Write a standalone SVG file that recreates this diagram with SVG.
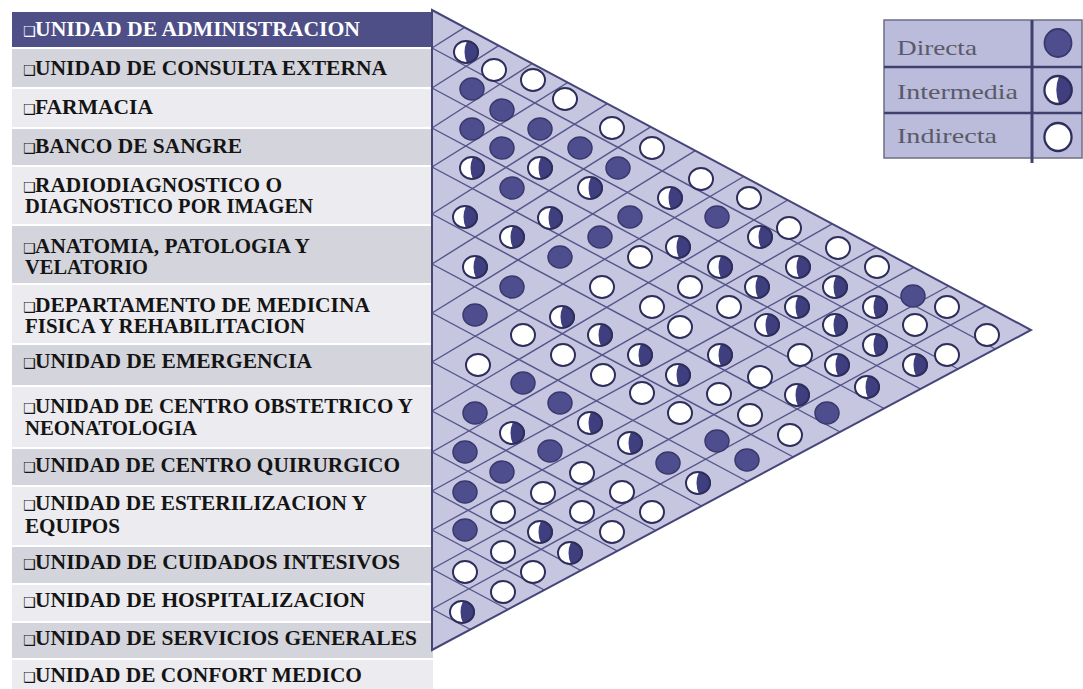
<svg xmlns="http://www.w3.org/2000/svg" width="1083" height="689" viewBox="0 0 1083 689">
<style>
.rd{fill:#4f4f88}
.rg{fill:#d4d4dc}
.rl{fill:#ececf0}
.t{font-family:"Liberation Serif","Times New Roman",serif;font-weight:bold;font-size:20px;fill:#141414}
.b{font-family:"DejaVu Sans",sans-serif;font-size:14px;fill:#141414}
.tw{fill:#ffffff}
.tri{fill:#c6c6e0}
.edge{fill:none;stroke:#45457a;stroke-width:2}
.g line{stroke:#55558b;stroke-width:1.4}
.f{fill:#4e4e8e;stroke:#38386c;stroke-width:1.5}
.w{fill:#ffffff;stroke:#2e2e5c;stroke-width:2}
.h{fill:#3f3f7f}
.o{fill:none;stroke:#2e2e5c;stroke-width:2}
.lg{fill:#bbbbdc;stroke:#6e6e84;stroke-width:1.5}
.ld{stroke:#40406f;stroke-width:2.5}
.lt{font-family:"Liberation Serif","Times New Roman",serif;font-size:21px;fill:#5a5a66}
</style>
<defs>
<g id="cF"><ellipse rx="12" ry="11" class="f"/></g>
<g id="cW"><ellipse rx="12" ry="11" class="w"/></g>
<g id="cI"><ellipse rx="12" ry="11" fill="#ffffff"/><path d="M1,-11 A12,11 0 0 1 1,11 Q-4,0 1,-11Z" class="h"/><ellipse rx="12" ry="11" class="o"/></g>
</defs>
<rect x="0" y="0" width="1083" height="689" fill="#ffffff"/>

<g id="labels">
<g id="n01"><rect class="rd" x="12" y="12" width="421" height="35"/><text class="b tw" x="23" y="36">❑</text><text class="t tw" x="35" y="36" textLength="325" lengthAdjust="spacingAndGlyphs">UNIDAD DE ADMINISTRACION</text></g>
<g id="n02"><rect class="rg" x="12" y="49" width="421" height="38"/><text class="b" x="23" y="75">❑</text><text class="t" x="35" y="75" textLength="352" lengthAdjust="spacingAndGlyphs">UNIDAD DE CONSULTA EXTERNA</text></g>
<g id="n03"><rect class="rl" x="12" y="89" width="421" height="38"/><text class="b" x="23" y="114">❑</text><text class="t" x="35" y="114" textLength="118" lengthAdjust="spacingAndGlyphs">FARMACIA</text></g>
<g id="n04"><rect class="rg" x="12" y="129" width="421" height="36"/><text class="b" x="23" y="153">❑</text><text class="t" x="35" y="153" textLength="207" lengthAdjust="spacingAndGlyphs">BANCO DE SANGRE</text></g>
<g id="n05"><rect class="rl" x="12" y="167" width="421" height="57"/><text class="b" x="23" y="192">❑</text><text class="t" x="35" y="192" textLength="247" lengthAdjust="spacingAndGlyphs">RADIODIAGNOSTICO O</text><text class="t" x="25" y="213" textLength="288" lengthAdjust="spacingAndGlyphs">DIAGNOSTICO POR IMAGEN</text></g>
<g id="n06"><rect class="rg" x="12" y="226" width="421" height="57"/><text class="b" x="23" y="253">❑</text><text class="t" x="35" y="253" textLength="275" lengthAdjust="spacingAndGlyphs">ANATOMIA, PATOLOGIA Y</text><text class="t" x="25" y="274" textLength="123" lengthAdjust="spacingAndGlyphs">VELATORIO</text></g>
<g id="n07"><rect class="rl" x="12" y="285" width="421" height="58"/><text class="b" x="23" y="312">❑</text><text class="t" x="35" y="312" textLength="335" lengthAdjust="spacingAndGlyphs">DEPARTAMENTO DE MEDICINA</text><text class="t" x="25" y="333" textLength="280" lengthAdjust="spacingAndGlyphs">FISICA Y REHABILITACION</text></g>
<g id="n08"><rect class="rg" x="12" y="345" width="421" height="40"/><text class="b" x="23" y="368">❑</text><text class="t" x="35" y="368" textLength="277" lengthAdjust="spacingAndGlyphs">UNIDAD DE EMERGENCIA</text></g>
<g id="n09"><rect class="rl" x="12" y="387" width="421" height="60"/><text class="b" x="23" y="413">❑</text><text class="t" x="35" y="413" textLength="378" lengthAdjust="spacingAndGlyphs">UNIDAD DE CENTRO OBSTETRICO Y</text><text class="t" x="25" y="435" textLength="172" lengthAdjust="spacingAndGlyphs">NEONATOLOGIA</text></g>
<g id="n10"><rect class="rg" x="12" y="449" width="421" height="36"/><text class="b" x="23" y="472">❑</text><text class="t" x="35" y="472" textLength="365" lengthAdjust="spacingAndGlyphs">UNIDAD DE CENTRO QUIRURGICO</text></g>
<g id="n11"><rect class="rl" x="12" y="487" width="421" height="58"/><text class="b" x="23" y="510">❑</text><text class="t" x="35" y="510" textLength="332" lengthAdjust="spacingAndGlyphs">UNIDAD DE ESTERILIZACION Y</text><text class="t" x="25" y="533" textLength="95" lengthAdjust="spacingAndGlyphs">EQUIPOS</text></g>
<g id="n12"><rect class="rg" x="12" y="547" width="421" height="36"/><text class="b" x="23" y="569">❑</text><text class="t" x="35" y="569" textLength="365" lengthAdjust="spacingAndGlyphs">UNIDAD DE CUIDADOS INTESIVOS</text></g>
<g id="n13"><rect class="rl" x="12" y="585" width="421" height="36"/><text class="b" x="23" y="607">❑</text><text class="t" x="35" y="607" textLength="330" lengthAdjust="spacingAndGlyphs">UNIDAD DE HOSPITALIZACION</text></g>
<g id="n14"><rect class="rg" x="12" y="623" width="421" height="35"/><text class="b" x="23" y="645">❑</text><text class="t" x="35" y="645" textLength="382" lengthAdjust="spacingAndGlyphs">UNIDAD DE SERVICIOS GENERALES</text></g>
<g id="n15"><rect class="rl" x="12" y="660" width="421" height="29"/><text class="b" x="23" y="682">❑</text><text class="t" x="35" y="682" textLength="327" lengthAdjust="spacingAndGlyphs">UNIDAD DE CONFORT MEDICO</text></g>
</g>

<g id="matrix">
<polygon class="tri" points="432,10 1031,330 432,650"/>
<g id="connectors" class="g">
<line x1="432" y1="48" x2="995.4" y2="349"/>
<line x1="432" y1="88" x2="958" y2="369"/>
<line x1="432" y1="128" x2="920.6" y2="389"/>
<line x1="432" y1="167" x2="884.1" y2="408.5"/>
<line x1="432" y1="214" x2="840.1" y2="432"/>
<line x1="432" y1="264" x2="793.3" y2="457"/>
<line x1="432" y1="313" x2="747.4" y2="481.5"/>
<line x1="432" y1="362" x2="701.5" y2="506"/>
<line x1="432" y1="411" x2="655.7" y2="530.5"/>
<line x1="432" y1="452" x2="617.3" y2="551"/>
<line x1="432" y1="491" x2="580.8" y2="570.5"/>
<line x1="432" y1="530" x2="544.3" y2="590"/>
<line x1="432" y1="569" x2="507.8" y2="609.5"/>
<line x1="432" y1="609" x2="470.4" y2="629.5"/>
<line x1="432" y1="48" x2="464.6" y2="27.4"/>
<line x1="432" y1="88" x2="498.7" y2="45.6"/>
<line x1="432" y1="128" x2="532.2" y2="63.5"/>
<line x1="432" y1="167" x2="567.7" y2="82.5"/>
<line x1="432" y1="214" x2="607.2" y2="103.6"/>
<line x1="432" y1="264" x2="650.7" y2="126.8"/>
<line x1="432" y1="313" x2="695.2" y2="150.6"/>
<line x1="432" y1="362" x2="743.7" y2="176.5"/>
<line x1="432" y1="411" x2="787.7" y2="200"/>
<line x1="432" y1="452" x2="832.2" y2="223.8"/>
<line x1="432" y1="491" x2="876.2" y2="247.3"/>
<line x1="432" y1="530" x2="913.7" y2="267.3"/>
<line x1="432" y1="569" x2="948.7" y2="286"/>
<line x1="432" y1="609" x2="985.7" y2="305.8"/>
</g>
<polygon class="edge" points="432,10 1031,330 432,650"/>
<g id="relations">
<use href="#cI" x="466" y="52"/><use href="#cW" x="494" y="70"/><use href="#cW" x="533" y="80"/><use href="#cW" x="565" y="99"/><use href="#cW" x="612" y="128"/><use href="#cW" x="652" y="148"/><use href="#cW" x="701" y="179"/><use href="#cW" x="749" y="198"/><use href="#cW" x="789" y="228"/><use href="#cW" x="838" y="248"/><use href="#cW" x="877" y="267"/><use href="#cF" x="913" y="296"/><use href="#cW" x="947" y="307"/><use href="#cW" x="987" y="335"/>
<use href="#cF" x="472" y="89"/><use href="#cF" x="502" y="110"/><use href="#cF" x="540" y="129"/><use href="#cF" x="580" y="148"/><use href="#cF" x="618" y="168"/><use href="#cI" x="670" y="198"/><use href="#cF" x="717" y="217"/><use href="#cI" x="760" y="237"/><use href="#cI" x="798" y="267"/><use href="#cI" x="835" y="287"/><use href="#cI" x="875" y="307"/><use href="#cW" x="915" y="325"/><use href="#cW" x="947" y="355"/>
<use href="#cF" x="472" y="129"/><use href="#cF" x="502" y="148"/><use href="#cI" x="540" y="168"/><use href="#cI" x="590" y="188"/><use href="#cF" x="630" y="217"/><use href="#cI" x="678" y="247"/><use href="#cI" x="720" y="267"/><use href="#cI" x="757" y="287"/><use href="#cI" x="797" y="307"/><use href="#cI" x="835" y="325"/><use href="#cI" x="875" y="345"/><use href="#cI" x="915" y="365"/>
<use href="#cI" x="472" y="168"/><use href="#cF" x="512" y="188"/><use href="#cI" x="550" y="218"/><use href="#cF" x="600" y="237"/><use href="#cW" x="640" y="257"/><use href="#cW" x="690" y="287"/><use href="#cW" x="729" y="307"/><use href="#cI" x="767" y="325"/><use href="#cW" x="800" y="355"/><use href="#cI" x="837" y="365"/><use href="#cI" x="867" y="387"/>
<use href="#cI" x="465" y="217"/><use href="#cI" x="512" y="237"/><use href="#cF" x="560" y="257"/><use href="#cW" x="602" y="287"/><use href="#cW" x="652" y="307"/><use href="#cW" x="680" y="327"/><use href="#cI" x="720" y="355"/><use href="#cW" x="760" y="377"/><use href="#cI" x="797" y="395"/><use href="#cF" x="827" y="413"/>
<use href="#cI" x="475" y="267"/><use href="#cF" x="512" y="287"/><use href="#cI" x="562" y="317"/><use href="#cI" x="600" y="335"/><use href="#cI" x="640" y="355"/><use href="#cI" x="678" y="375"/><use href="#cW" x="719" y="394"/><use href="#cW" x="750" y="415"/><use href="#cW" x="790" y="435"/>
<use href="#cF" x="475" y="315"/><use href="#cW" x="523" y="335"/><use href="#cW" x="563" y="355"/><use href="#cW" x="603" y="375"/><use href="#cW" x="642" y="393"/><use href="#cW" x="680" y="413"/><use href="#cF" x="717" y="441"/><use href="#cF" x="747" y="460"/>
<use href="#cW" x="478" y="365"/><use href="#cF" x="523" y="383"/><use href="#cF" x="560" y="403"/><use href="#cI" x="590" y="423"/><use href="#cI" x="630" y="443"/><use href="#cF" x="668" y="463"/><use href="#cI" x="698" y="483"/>
<use href="#cF" x="475" y="413"/><use href="#cI" x="512" y="433"/><use href="#cF" x="550" y="451"/><use href="#cW" x="582" y="473"/><use href="#cW" x="622" y="492"/><use href="#cW" x="652" y="512"/>
<use href="#cF" x="465" y="452"/><use href="#cF" x="502" y="472"/><use href="#cW" x="543" y="493"/><use href="#cW" x="582" y="512"/><use href="#cW" x="612" y="532"/>
<use href="#cF" x="465" y="492"/><use href="#cW" x="503" y="512"/><use href="#cI" x="540" y="532"/><use href="#cI" x="570" y="553"/>
<use href="#cF" x="465" y="530"/><use href="#cW" x="503" y="552"/><use href="#cW" x="533" y="572"/>
<use href="#cW" x="465" y="572"/><use href="#cW" x="503" y="592"/>
<use href="#cI" x="462" y="612"/>
</g>
</g>

<g id="legend">
<rect class="lg" x="884" y="20" width="198" height="138"/>
<line class="ld" x1="884" y1="67" x2="1082" y2="67"/>
<line class="ld" x1="884" y1="113" x2="1082" y2="113"/>
<line x1="1032" y1="20" x2="1032" y2="163" stroke="#40406f" stroke-width="3"/>
<text class="lt" x="897" y="55" textLength="80" lengthAdjust="spacingAndGlyphs">Directa</text>
<text class="lt" x="897" y="99" textLength="121" lengthAdjust="spacingAndGlyphs">Intermedia</text>
<text class="lt" x="897" y="143" textLength="100" lengthAdjust="spacingAndGlyphs">Indirecta</text>
<use href="#cF" transform="translate(1058,43) scale(1.13,1.27)"/>
<use href="#cI" transform="translate(1058,90) scale(1.13,1.27)"/>
<use href="#cW" transform="translate(1058,137) scale(1.13,1.27)"/>
</g>
</svg>
